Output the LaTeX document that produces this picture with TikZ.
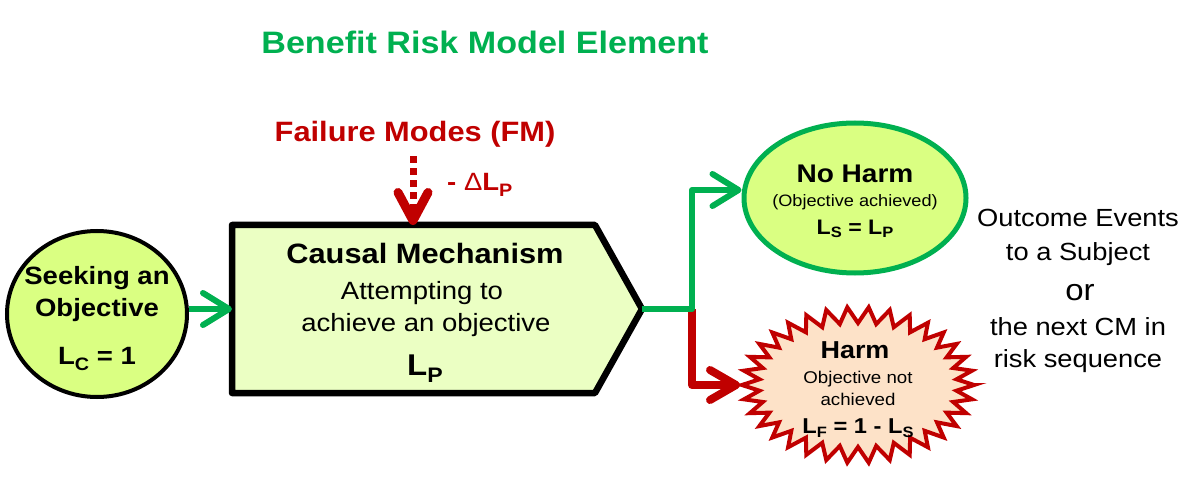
\documentclass[tikz,border=0pt]{standalone}
\usepackage{fontspec}
\setmainfont{Liberation Sans}[FakeStretch=1.1]
\usetikzlibrary{arrows.meta,shapes.geometric}
\definecolor{bgreen}{HTML}{00B050}
\definecolor{fred}{HTML}{C00000}
\definecolor{lgreen}{HTML}{DAFF82}
\definecolor{boxfill}{HTML}{EBFFC3}
\definecolor{peach}{HTML}{FDE2C8}
\newcommand\fsz[1]{\fontsize{#1}{#1}\selectfont}
\newcommand\lsub[3]{{\fsz{#1}\raisebox{-#2}{#3}}}
\begin{document}
\begin{tikzpicture}[x=1pt,y=-1pt,
  txt/.style={inner sep=0pt,anchor=base},
  boldtxt/.style={txt,font=\bfseries\fsz{#1}},
  regtxt/.style={txt,font=\fsz{#1}},
  garrow/.style={draw=bgreen,line width=6pt,line join=round,-{Straight Barb[length=26pt,width=32pt,round]}},
  rarrow/.style={draw=fred,line width=8pt,line join=round,-{Straight Barb[length=26pt,width=30pt,round]}},
  fmarrow/.style={draw=fred,line width=7pt,dash pattern=on 7pt off 5pt,-{Straight Barb[length=28pt,width=30pt,line width=9pt,round]}},
  boxline/.style={draw=black,line width=6.5pt,line join=round,fill=boxfill}]
\useasboundingbox (0,0) rectangle (1182,478);

% title
\node[boldtxt=31,text=bgreen] (title) at (485,54) {Benefit Risk Model Element};

% causal mechanism box
\draw[boxline] (232,225) -- (595,225) -- (642,309) -- (595,393) -- (232,393) -- cycle;
\coordinate (btip) at (642,309);
\coordinate (bw) at (232,309);
\coordinate (btop) at (413,225);
\coordinate (jn) at (692,309);
\node[boldtxt=28] (cm1) at (425,263) {Causal Mechanism};
\node[regtxt=25] (cm2) at (422,299) {Attempting to};
\node[regtxt=25] (cm3) at (426,331) {achieve an objective};
\node[boldtxt=30] (cm4) at (425,375) {L\lsub{21}{7pt}{P}};

% failure modes
\node[boldtxt=28,text=fred] (fm) at (415,142) {Failure Modes (FM)};
\node[boldtxt=25,text=fred,anchor=base west] (dlp) at (447,191) {- {\mdseries Δ}L\lsub{18}{6pt}{P}};
\draw[fmarrow] ([yshift=-8pt]fm.south -| btop) -- (btop);

% seeking an objective
\node[ellipse,draw=black,line width=4pt,fill=lgreen,minimum width=180pt,minimum height=166pt,inner sep=0pt] (seek) at (97,314) {};
\node[boldtxt=25] (s1) at (97,284) {Seeking an};
\node[boldtxt=25] (s2) at (97,316) {Objective};
\node[boldtxt=25] (s3) at (97,364) {L\lsub{18}{6pt}{C} = 1};
\draw[garrow] (seek.east |- bw) -- (bw);

% no harm
\node[ellipse,draw=bgreen,line width=5pt,fill=lgreen,minimum width=222pt,minimum height=150pt,inner sep=0pt] (noharm) at (855,198) {};
\node[boldtxt=25.5] (n1) at (855,183) {No Harm};
\node[regtxt=16.5] (n2) at (855,207) {(Objective achieved)};
\node[boldtxt=21] (n3) at (855,234) {L\lsub{15}{4pt}{S} = L\lsub{15}{4pt}{P}};

% harm starburst
\begin{scope}[shift={(858,385)}]
\draw[draw=fred,line width=4pt,line join=miter,fill=peach]
  (0:116 and 78) \foreach \i in {0,...,33}{ -- ({\i*360/34+180/34}:99 and 62) -- ({\i*360/34+360/34}:116 and 78)} -- cycle;
\coordinate (harmtip) at (-118,0);
\end{scope}
\node[boldtxt=24.5] (h1) at (855,358) {Harm};
\node[regtxt=17] (h2) at (858,383) {Objective not};
\node[regtxt=17] (h3) at (858,405) {achieved};
\node[boldtxt=21.5] (h4) at (858,433) {L\lsub{15}{4pt}{F} = 1 - L\lsub{15}{4pt}{S}};

% connectors to outcomes
\draw[rarrow] (jn) |- (harmtip);
\draw[garrow] (btip) -- (jn) |- ([yshift=8pt]noharm.west);

% right text
\node[regtxt=24.8] (o1) at (1078,227) {Outcome Events};
\node[regtxt=24.8] (o2) at (1078,261) {to a Subject};
\node[regtxt=30] (o3) at (1080,300) {or};
\node[regtxt=24.8] (o4) at (1078,335) {the next CM in};
\node[regtxt=24.8] (o5) at (1078,367) {risk sequence};
\end{tikzpicture}
\end{document}
